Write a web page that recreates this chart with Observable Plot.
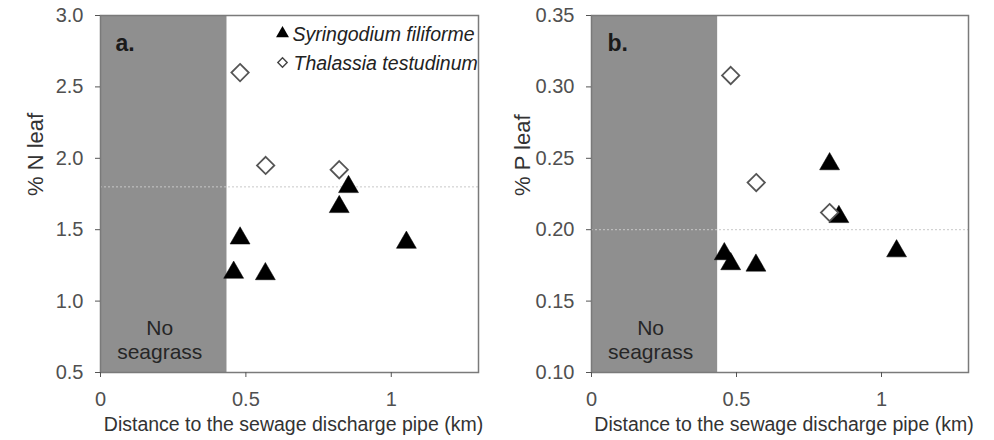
<!DOCTYPE html>
<html>
<head>
<meta charset="utf-8">
<script src="https://cdn.jsdelivr.net/npm/d3@7"></script>
<script src="https://cdn.jsdelivr.net/npm/@observablehq/plot@0.6"></script>
<style>
  html, body { margin: 0; padding: 0; background: #fff; }
  #wrap { display: flex; width: 994px; height: 440px; }
  #wrap > div { width: 497px; height: 440px; }
</style>
</head>
<body>
<div id="wrap"><div id="pa"></div><div id="pb"></div></div>
<script>
// ---- data ----
const speciesS = "Syringodium filiforme";
const speciesT = "Thalassia testudinum";
const distS = [0.458, 0.480, 0.567, 0.821, 0.853, 1.052];
const nLeafS = [1.20, 1.44, 1.19, 1.66, 1.80, 1.41];
const pLeafS = [0.183, 0.176, 0.175, 0.246, 0.209, 0.185];
const distT = [0.480, 0.568, 0.821];
const nLeafT = [2.60, 1.95, 1.92];
const pLeafT = [0.308, 0.233, 0.212];
const noSeagrassEdge = 0.435;
const xTicks = [0, 0.5, 1];
const nTicks = [0.5, 1.0, 1.5, 2.0, 2.5, 3.0];
const pTicks = [0.10, 0.15, 0.20, 0.25, 0.30, 0.35];
const nRef = 1.8;
const pRef = 0.20;
const xTitle = "Distance to the sewage discharge pipe (km)";

const rowsS = (vals) => distS.map((d, i) => ({dist: d, v: vals[i]}));
const rowsT = (vals) => distT.map((d, i) => ({dist: d, v: vals[i]}));

function panel({vals1, vals2, yTicks, yFmt, yTitle, ref, tag, mL, mR, tagDx, titleDx, legend}) {
  const yDom = [yTicks[0], yTicks[yTicks.length - 1]];
  const marks = [
    Plot.rect([{x1: 0, x2: noSeagrassEdge}], {x1: "x1", x2: "x2", fill: "#8f8f8f"}),
    Plot.ruleY([ref], {stroke: "#c8c8c8", strokeDasharray: "2,2", strokeWidth: 1}),
    Plot.frame({stroke: "#7a7a7a", strokeWidth: 1.5}),
    Plot.axisY({ticks: yTicks, tickFormat: yFmt, tickSize: 5, tickPadding: 12, fontSize: 20,
      stroke: "#555", fill: "#505050", label: null}),
    Plot.axisX({ticks: xTicks, tickFormat: d3.format("~g"), tickSize: 5, tickPadding: 14, fontSize: 20,
      stroke: "#555", fill: "#505050", label: null}),
    Plot.text([yTitle], {frameAnchor: "left", dx: -titleDx, dy: 2, rotate: -90, fontSize: 22, fill: "#333"}),
    Plot.text([xTitle], {frameAnchor: "bottom", dy: 58, dx: 4, fontSize: 19.5, fill: "#333"}),
    Plot.text([`No\nseagrass`], {x: noSeagrassEdge / 2, frameAnchor: "bottom", lineAnchor: "bottom", dy: -14,
      dx: -4, fontSize: 21, lineHeight: 1.1, fill: "#262626"}),
    Plot.text([tag], {frameAnchor: "top-left", dx: tagDx, dy: 28, lineAnchor: "middle", textAnchor: "start",
      fontSize: 23, fontWeight: "bold", fill: "#1a1a1a"}),
    Plot.dot(rowsS(vals1), {x: "dist", y: "v", symbol: "triangle", r: 7.4, fill: "black", stroke: "black", strokeWidth: 0.5}),
    Plot.dot(rowsT(vals2), {x: "dist", y: "v", symbol: "diamond2", r: 7.8, fill: "white", stroke: "#555", strokeWidth: 1.8})
  ];
  if (legend) {
    marks.push(
      Plot.dot([speciesS], {frameAnchor: "top-left", dx: 182, dy: 18, symbol: "triangle", r: 4.8, fill: "black"}),
      Plot.text([speciesS], {frameAnchor: "top-left", dx: 192, dy: 19, textAnchor: "start", lineAnchor: "middle",
        fontSize: 19.5, fontStyle: "italic", fill: "#222"}),
      Plot.dot([speciesT], {frameAnchor: "top-left", dx: 182, dy: 47, symbol: "diamond2", r: 4.2, fill: "white", stroke: "#444", strokeWidth: 1.4}),
      Plot.text([speciesT], {frameAnchor: "top-left", dx: 193, dy: 48, textAnchor: "start", lineAnchor: "middle",
        fontSize: 19.5, fontStyle: "italic", fill: "#222"})
    );
  }
  return Plot.plot({
    width: 497, height: 440,
    marginLeft: mL, marginRight: mR, marginTop: 15, marginBottom: 68,
    style: {fontFamily: "'Liberation Sans', Arial, sans-serif", fontSize: "18px", background: "white", overflow: "visible"},
    x: {domain: [0, 1.3]},
    y: {domain: yDom},
    marks
  });
}

document.getElementById("pa").append(panel({
  vals1: nLeafS, vals2: nLeafT, yTicks: nTicks, yFmt: d3.format(".1f"), yTitle: "% N leaf",
  ref: nRef, tag: "a.", mL: 100, mR: 19, tagDx: 15, titleDx: 65, legend: true
}));
document.getElementById("pb").append(panel({
  vals1: pLeafS, vals2: pLeafT, yTicks: pTicks, yFmt: d3.format(".2f"), yTitle: "% P leaf",
  ref: pRef, tag: "b.", mL: 94, mR: 26, tagDx: 16, titleDx: 69, legend: false
}));
</script>
</body>
</html>
